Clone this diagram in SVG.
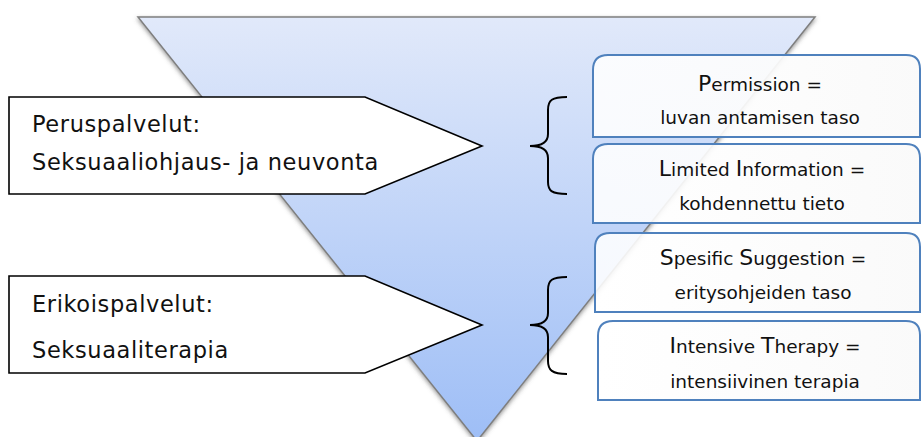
<svg xmlns="http://www.w3.org/2000/svg" width="921" height="437" viewBox="0 0 921 437">
<style>
.arrow{fill:#fff;stroke:#000;stroke-width:1.6}
.ltxt{font-family:"DejaVu Sans","Liberation Sans",sans-serif;font-size:22.5px;letter-spacing:0.6px;fill:#111}
.box{fill:url(#boxg);stroke:#4f81bd;stroke-width:2}
.rtxt{font-family:"DejaVu Sans","Liberation Sans",sans-serif;font-size:18.5px;fill:#111;text-anchor:middle}
.cap{font-size:22px}
.brace{fill:none;stroke:#000;stroke-width:2}
</style>
<defs>
<linearGradient id="tri" x1="0" y1="0" x2="0" y2="1">
<stop offset="0" stop-color="#e1e9fa"/>
<stop offset="1" stop-color="#9ebef6"/>
</linearGradient>
<linearGradient id="boxg" x1="0" y1="0" x2="1" y2="0">
<stop offset="0" stop-color="#ffffff" stop-opacity="0.88"/>
<stop offset="1" stop-color="#fafafa" stop-opacity="0.97"/>
</linearGradient>
<filter id="sh" x="-10%" y="-10%" width="120%" height="120%">
<feDropShadow dx="0" dy="2" stdDeviation="2" flood-color="#555" flood-opacity="0.6"/>
</filter>
</defs>
<g id="pyramid">
<polygon points="138,17 815,17 477,441" fill="url(#tri)" stroke="#7f7f7f" stroke-width="1.5" filter="url(#sh)"/>
</g>
<g id="peruspalvelut">
<polygon class="arrow" points="9,97 365,97 482,146 365,194 9,194"/>
<text class="ltxt" x="32" y="132">Peruspalvelut:</text>
<text class="ltxt" x="32" y="170">Seksuaaliohjaus- ja neuvonta</text>
</g>
<g id="erikoispalvelut">
<polygon class="arrow" points="9,276 365,276 482,325 365,373 9,373"/>
<text class="ltxt" x="32" y="312">Erikoispalvelut:</text>
<text class="ltxt" x="32" y="358">Seksuaaliterapia</text>
</g>
<g id="connectors">
<path class="brace" d="M567,97 C552,97 548,100 548,110 L548,134 C548,143 540,146 530,146 C540,146 548,149 548,158 L548,182 C548,191 552,194 567,194"/>
<path class="brace" d="M567,277 C552,277 548,280 548,290 L548,313 C548,322 540,325 530,325 C540,325 548,328 548,337 L548,361 C548,370 552,374 567,374"/>
</g>
<g id="permission">
<path class="box" d="M593,137 L593,70 Q593,55 608,55 L906,55 Q920,55 920,69 L920,137 Z"/>
<text class="rtxt" x="760" y="91"><tspan class="cap">P</tspan>ermission =</text>
<text class="rtxt" x="760" y="124">luvan antamisen taso</text>
</g>
<g id="limited-information">
<path class="box" d="M593,223 L593,159 Q593,144 608,144 L906,144 Q920,144 920,158 L920,223 Z"/>
<text class="rtxt" x="762" y="176"><tspan class="cap">L</tspan>imited <tspan class="cap">I</tspan>nformation =</text>
<text class="rtxt" x="762" y="210">kohdennettu tieto</text>
</g>
<g id="specific-suggestion">
<path class="box" d="M595,312 L595,248 Q595,233 610,233 L906,233 Q920,233 920,247 L920,312 Z"/>
<text class="rtxt" x="763" y="265"><tspan class="cap">S</tspan>pesific <tspan class="cap">S</tspan>uggestion =</text>
<text class="rtxt" x="763" y="299">eritysohjeiden taso</text>
</g>
<g id="intensive-therapy">
<path class="box" d="M598,400 L598,336 Q598,321 613,321 L906,321 Q920,321 920,335 L920,400 Z"/>
<text class="rtxt" x="765" y="353"><tspan class="cap">I</tspan>ntensive <tspan class="cap">T</tspan>herapy =</text>
<text class="rtxt" x="765" y="388">intensiivinen terapia</text>
</g>
</svg>
